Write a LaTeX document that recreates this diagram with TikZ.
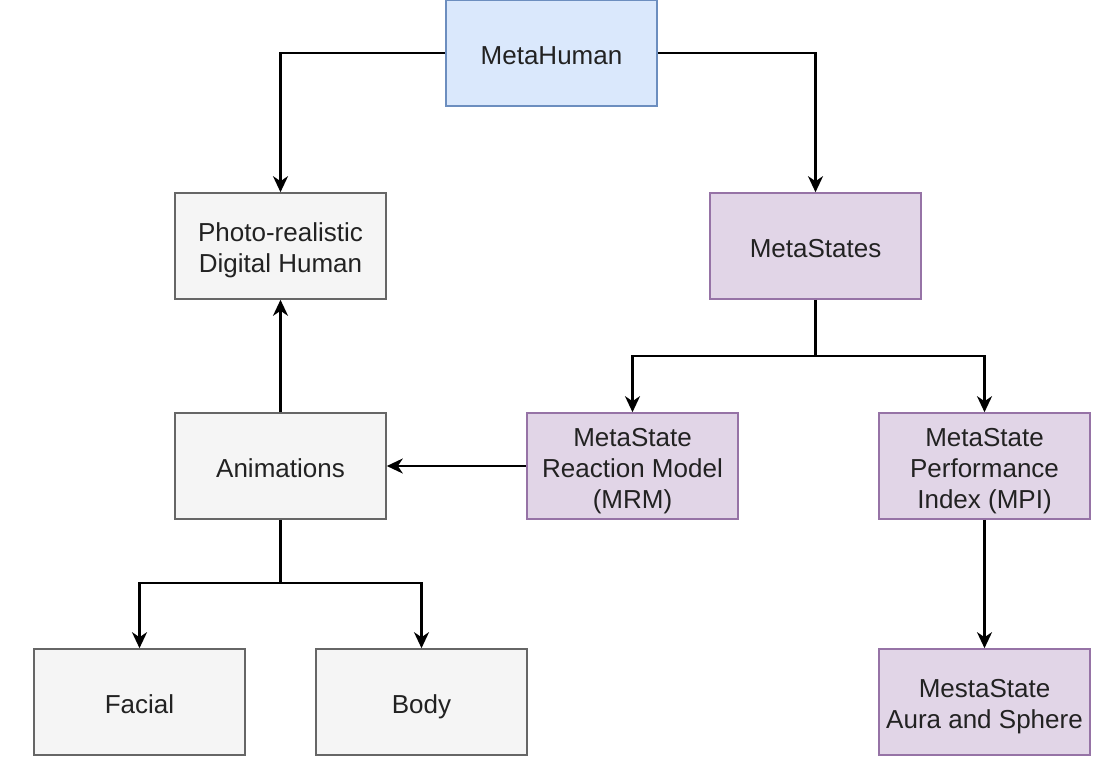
\documentclass[tikz,border=0pt]{standalone}
\usepackage{fontspec}
\setmainfont{Liberation Sans}
\usetikzlibrary{arrows.meta}
\definecolor{bluefill}{HTML}{DAE8FC}
\definecolor{blueline}{HTML}{6C8EBF}
\definecolor{grayfill}{HTML}{F5F5F5}
\definecolor{grayline}{HTML}{666666}
\definecolor{purpfill}{HTML}{E1D5E7}
\definecolor{purpline}{HTML}{9673A6}
\definecolor{txt}{HTML}{222222}
\newcommand\tshift{\rule{0pt}{31.7pt}\strut}
\begin{document}
\begin{tikzpicture}[x=1pt,y=-1pt,
  box/.style={draw, line width=1.6pt, minimum width=211pt, minimum height=106pt, inner sep=0pt, align=center, font=\fontsize{26}{31}\selectfont, text=txt},
  bluebox/.style={box, fill=bluefill, draw=blueline},
  graybox/.style={box, fill=grayfill, draw=grayline},
  purpbox/.style={box, fill=purpfill, draw=purpline},
  conn/.style={draw=black, line width=2.2pt, -{Stealth[length=16pt,width=15pt,inset=5pt]}},
  plain/.style={draw=black, line width=2.2pt}]
\useasboundingbox (0,0) rectangle (1110,770);
\node[bluebox] (mh) at (551.5,53) {\tshift MetaHuman};
\node[graybox] (photo) at (280.5,246) {\tshift Photo-realistic\\Digital Human\strut};
\node[purpbox] (ms) at (815.5,246) {\tshift MetaStates};
\node[graybox] (anim) at (280.5,466) {\tshift Animations};
\node[purpbox] (mrm) at (632.5,466) {\tshift MetaState\\Reaction Model\strut\\(MRM)\strut};
\node[purpbox] (mpi) at (984.5,466) {\tshift MetaState\\Performance\strut\\Index (MPI)\strut};
\node[graybox] (face) at (139.5,702) {\tshift Facial};
\node[graybox] (body) at (421.5,702) {\tshift Body};
\node[purpbox] (aura) at (984.5,702) {\tshift MestaState\\Aura and Sphere\strut};
\coordinate (msj) at (815.5,356);
\coordinate (anj) at (280.5,583);
\draw[conn] (mh.west) -| (photo.north);
\draw[conn] (mh.east) -| (ms.north);
\draw[plain] (ms.south) -- (msj);
\draw[conn] (msj) -| (mrm.north);
\draw[conn] (msj) -| (mpi.north);
\draw[conn] (mrm.west) -- (anim.east);
\draw[conn] (anim.north) -- (photo.south);
\draw[plain] (anim.south) -- (anj);
\draw[conn] (anj) -| (face.north);
\draw[conn] (anj) -| (body.north);
\draw[conn] (mpi.south) -- (aura.north);
\end{tikzpicture}
\end{document}
